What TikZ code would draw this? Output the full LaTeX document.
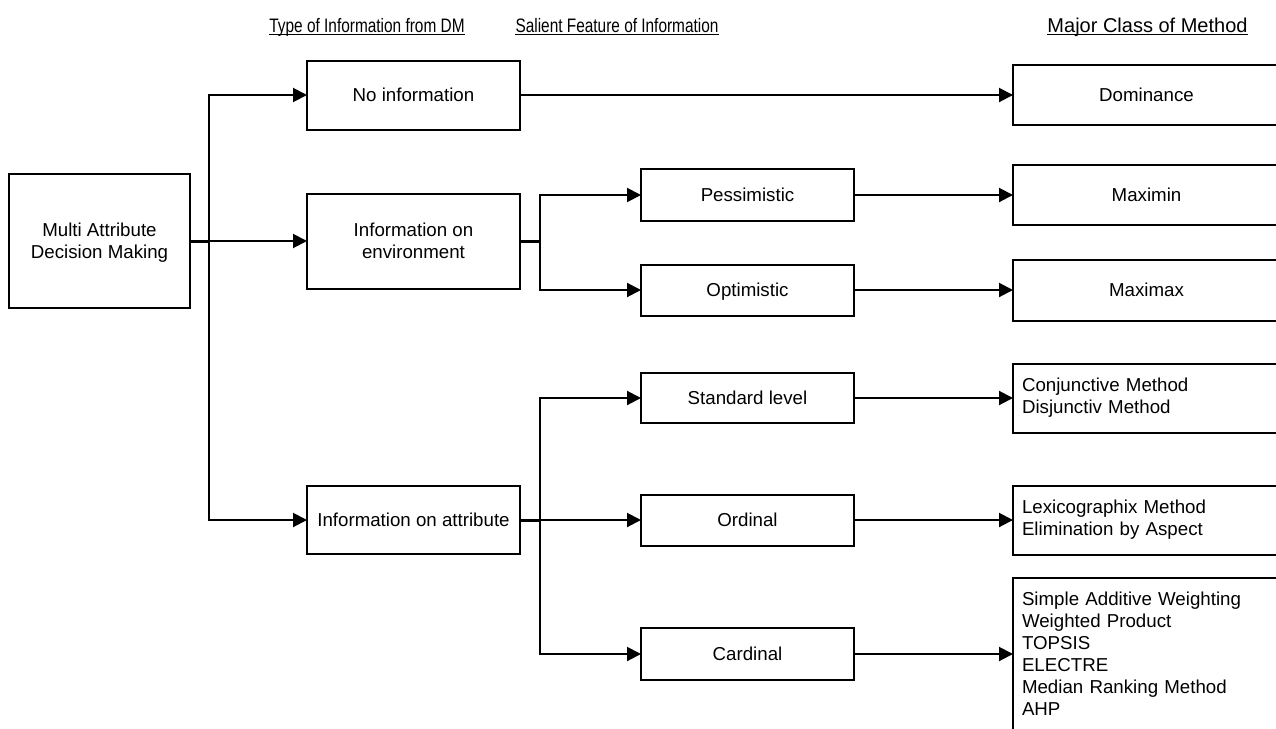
\documentclass[tikz,border=0pt]{standalone}
\usepackage{fontspec}
\setmainfont{Liberation Sans}
\newfontfamily\narrowfont{Liberation Sans}[FakeStretch=0.79]
\usetikzlibrary{arrows.meta}
\begin{document}
\begin{tikzpicture}[x=1pt,y=-1pt,
  every node/.style={font=\fontsize{18.7}{22}\selectfont},
  box/.style={draw, line width=2pt, inner sep=0pt, outer sep=0pt},
  cbox/.style={box, align=center, text depth=0pt},
  midbox/.style={cbox, minimum width=213pt},
  endbox/.style={cbox, minimum width=267pt},
  listbox/.style={box, align=left, text width=249pt, inner xsep=9pt},
  link/.style={line width=2pt, -{Triangle[length=14pt,width=14pt]}},
  stub/.style={line width=3pt},
  head/.style={inner sep=0pt, anchor=base},
  uline/.style={line width=1.3pt}]

\clip (0,0) rectangle (1276,728);
\fill[white] (0,0) rectangle (1276,728);

% column headings
\node[head, font=\narrowfont\fontsize{19.5}{22}\selectfont] (h1) at (367,32) {Type of Information from DM};
\node[head, font=\narrowfont\fontsize{19.5}{22}\selectfont] (h2) at (617,32) {Salient Feature of Information};
\node[head, font=\fontsize{20}{22}\selectfont] (h3) at (1147.5,32) {Major Class of Method};
\foreach \h in {h1,h2,h3}
  \draw[uline] ([yshift=-2.5pt]\h.base west) -- ([yshift=-2.5pt]\h.base east);

% root
\node[cbox, minimum width=181pt, minimum height=134pt] (madm) at (99.5,241) {Multi Attribute\\Decision Making};

% type of information
\node[midbox, minimum height=69pt] (noinfo) at (413.5,95) {No information};
\node[midbox, minimum height=95pt] (env) at (413.5,241) {Information on\\environment};
\node[midbox, minimum height=68pt] (attr) at (413.5,520) {Information on attribute};

% salient feature
\node[midbox, minimum height=52pt] (pess) at (747.5,195) {Pessimistic};
\node[midbox, minimum height=51pt] (opt) at (747.5,290) {Optimistic};
\node[midbox, minimum height=50pt] (std) at (747.5,398) {Standard level};
\node[midbox, minimum height=51pt] (ord) at (747.5,520) {Ordinal};
\node[midbox, minimum height=52pt] (card) at (747.5,654) {Cardinal};

% major class of method
\node[endbox, minimum height=60pt] (dom) at (1146.5,95) {Dominance};
\node[endbox, minimum height=60pt] (maximin) at (1146.5,195) {Maximin};
\node[endbox, minimum height=61pt] (maximax) at (1146.5,290) {Maximax};
\node[listbox, minimum height=69pt] (conj) at (1146.5,398) {Conjunctive Method\\Disjunctiv Method};
\node[listbox, minimum height=69pt] (lexi) at (1146.5,520) {Lexicographix Method\\Elimination by Aspect};
\node[listbox, minimum height=152pt] (cmeth) at (1146.5,654) {Simple Additive Weighting\\Weighted Product\\TOPSIS\\ELECTRE\\Median Ranking Method\\AHP};

% branching points
\coordinate (t1) at (209,241);
\coordinate (e1) at (540,241);
\coordinate (a1) at (540,520);

% connectors
\draw[stub] (madm.east) -- (t1);
\draw[link] (t1) |- (noinfo.west);
\draw[link] (madm.east) -- (env.west);
\draw[link] (t1) |- (attr.west);

\draw[link] (noinfo.east) -- (dom.west);

\draw[stub] (env.east) -- (e1);
\draw[link] (e1) |- (pess.west);
\draw[link] (e1) |- (opt.west);

\draw[stub] (attr.east) -- (a1);
\draw[link] (a1) |- (std.west);
\draw[link] (attr.east) -- (ord.west);
\draw[link] (a1) |- (card.west);

\draw[link] (pess.east) -- (maximin.west);
\draw[link] (opt.east) -- (maximax.west);
\draw[link] (std.east) -- (conj.west);
\draw[link] (ord.east) -- (lexi.west);
\draw[link] (card.east) -- (cmeth.west);
\end{tikzpicture}
\end{document}
